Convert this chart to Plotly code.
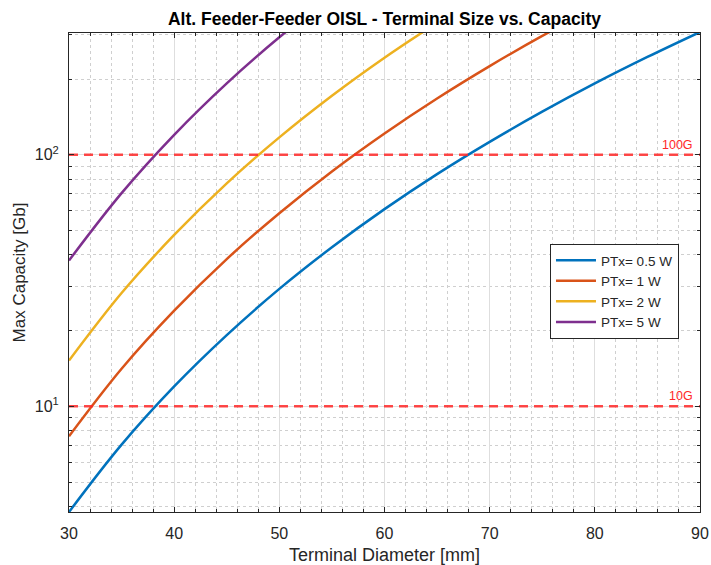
import math
import plotly.graph_objects as go

# Terminal diameter [mm]
diameter = [30, 35, 40, 45, 50, 55, 60, 65, 70, 75, 80, 85, 90]

# Max capacity [Gb], per transmit power
cap_05w = [3.8, 7.04, 12.0, 19.2, 29.3, 42.9, 60.8, 83.8, 112.6, 148.4, 192.2, 244.9, 307.8]
cap_1w = [7.6, 14.1, 24.0, 38.5, 58.6, 85.9, 121.6, 167.5, 225.3, 296.9, 384.4]
cap_2w = [15.2, 28.2, 48.0, 77.0, 117.3, 171.7, 243.2, 335.1]
cap_5w = [38.0, 70.4, 120.1, 192.4, 293.2, 429.3]

series_names = ["PTx= 0.5 W", "PTx= 1 W", "PTx= 2 W", "PTx= 5 W"]
series_vals = [cap_05w, cap_1w, cap_2w, cap_5w]
series_colors = ["#0072BD", "#D95319", "#EDB120", "#7E2F8E"]

thresholds = [100, 10]
threshold_labels = ["100G", "10G"]

x_range = [30, 90]
y_range = [3.8, 305]

FONT = "Liberation Sans, Arial, sans-serif"

fig = go.Figure()

for name, vals, col in zip(series_names, series_vals, series_colors):
    fig.add_trace(go.Scatter(
        x=diameter[:len(vals)], y=vals, mode="lines", name=name,
        line=dict(color=col, width=2.5, shape="spline"),
    ))

for thr, lab in zip(thresholds, threshold_labels):
    fig.add_trace(go.Scatter(
        x=x_range, y=[thr, thr], mode="lines", showlegend=False,
        line=dict(color="rgba(255,40,40,0.85)", width=2.5, dash="9px,6px"),
        hoverinfo="skip",
    ))
    fig.add_annotation(x=x_range[1], y=math.log10(thr), yref="y", xref="x", text=lab,
                       showarrow=False, xanchor="right", yanchor="bottom",
                       xshift=-5, yshift=1,
                       font=dict(color="#FF2828", size=12.5, family=FONT))

minor_y = [m * d for d in (1, 10, 100) for m in range(2, 10)]

axis_common = dict(
    showline=True, linecolor="#262626", linewidth=1, mirror="ticks",
    ticks="inside", ticklen=5, tickcolor="#262626",
    showgrid=True, gridcolor="#dedede", gridwidth=1,
    tickfont=dict(size=16, color="#262626", family=FONT),
    zeroline=False, automargin=False,
)

fig.update_xaxes(
    range=x_range, dtick=10, tick0=30, ticklabelstandoff=7,
    title=dict(text="Terminal Diameter [mm]", font=dict(size=18, color="#262626", family=FONT), standoff=8),
    minor=dict(dtick=2, tick0=30, showgrid=True, gridcolor="#cfcfcf", griddash="dot",
               ticks="inside", ticklen=3, tickcolor="#262626"),
    **axis_common,
)
fig.update_yaxes(
    type="log", range=[math.log10(y_range[0]), math.log10(y_range[1])],
    tickvals=[10, 100], ticktext=["10<sup>1</sup>", "10<sup>2</sup>"], ticklabelstandoff=6,
    title=dict(text="Max Capacity [Gb]", font=dict(size=17, color="#262626", family=FONT), standoff=4),
    minor=dict(tickvals=minor_y, showgrid=True, gridcolor="#cfcfcf", griddash="dot",
               ticks="inside", ticklen=3, tickcolor="#262626"),
    **axis_common,
)

fig.update_layout(
    width=711, height=565,
    margin=dict(l=69, r=11, t=33, b=53),
    paper_bgcolor="white", plot_bgcolor="white",
    font=dict(family=FONT, color="#262626"),
    title=dict(text="<b>Alt. Feeder-Feeder OISL - Terminal Size vs. Capacity</b>",
               x=(69 + 700) / 2 / 711, xanchor="center", y=1 - 19 / 565, yanchor="middle",
               font=dict(size=17.5, color="black", family=FONT)),
    legend=dict(x=0.9667, y=0.5595, xanchor="right", yanchor="top",
                bgcolor="white", bordercolor="#262626", borderwidth=1,
                font=dict(size=13.5, color="#262626", family=FONT), tracegroupgap=0,
                itemwidth=40),
    showlegend=True,
)

fig.write_html("out.html")
